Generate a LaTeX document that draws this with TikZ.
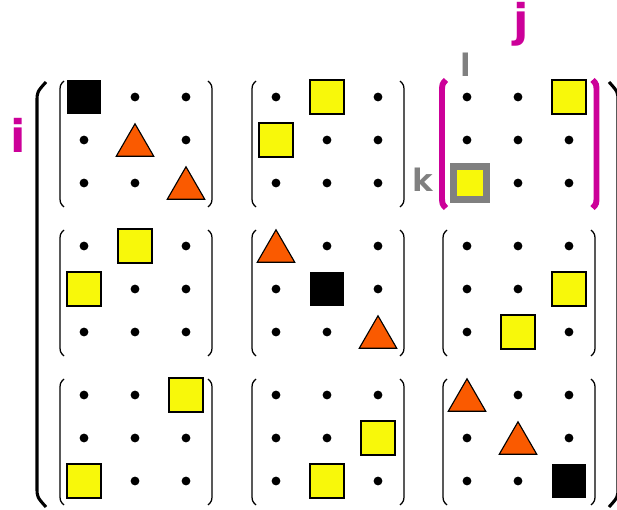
\documentclass[tikz,border=0pt]{standalone}
\usepackage{fontspec}
\setmainfont{DejaVu Sans}
\usepackage{tikz}
\usetikzlibrary{shapes.geometric}
\definecolor{mag}{RGB}{204,0,153}
\definecolor{ylw}{RGB}{248,248,10}
\definecolor{org}{RGB}{250,90,0}
\definecolor{gry}{RGB}{128,128,128}

\begin{document}
\begin{tikzpicture}[x=0.025cm,y=-0.025cm]
\tikzstyle{dot}= [circle, inner sep=0pt, fill=black, minimum size=0.22cm]
\tikzstyle{ysq}= [rectangle, inner sep=0pt, fill=ylw, draw, line width=0.8pt, minimum size=0.85cm]
\tikzstyle{bsq}= [rectangle, inner sep=0pt, fill=black, minimum size=0.85cm]
\tikzstyle{tri}= [regular polygon, regular polygon sides=3, inner sep=0pt, fill=org, draw, line width=0.8pt, minimum size=1.08cm, yshift=-0.135cm]
\tikzstyle{hl}= [rectangle, inner sep=0pt, fill=ylw, draw=gry, line width=0.175cm, minimum size=0.81cm]
\tikzstyle{par}= [line width=0.9pt]
\tikzstyle{lab}= [inner sep=0pt, anchor=base, font=\bfseries\fontsize{32}{36}\selectfont]
\useasboundingbox (0,0) rectangle (617,510);
%outer
\draw[line width=2.2pt] (46,82) .. controls (37,92) .. (37,102) -- (37,487) .. controls (37,497) .. (46,507);
\draw[line width=2.2pt] (609,82) .. controls (618,92) .. (618,102) -- (618,487) .. controls (618,497) .. (609,507);
\node[lab, text=mag] (li) at (18,153) {i};
\node[lab, text=mag] (lj) at (521,37) {j};
\node[lab, text=gry, font=\bfseries\fontsize{22}{26}\selectfont] (ll) at (466,77) {l};
\node[lab, text=gry, font=\bfseries\fontsize{22}{26}\selectfont] (lk) at (423,192) {k};
%1
\def\r{84};
\def\u{97};
\node[bsq] (e1111) at (0+\r,0+\u) {};
\node[dot] (e1112) at (51+\r,0+\u) {};
\node[dot] (e1113) at (102+\r,0+\u) {};
\node[dot] (e1121) at (0+\r,43+\u) {};
\node[tri] (e1122) at (51+\r,43+\u) {};
\node[dot] (e1123) at (102+\r,43+\u) {};
\node[dot] (e1131) at (0+\r,86+\u) {};
\node[dot] (e1132) at (51+\r,86+\u) {};
\node[tri] (e1133) at (102+\r,86+\u) {};
\draw[par] (-20+\r,-16+\u) .. controls (-24+\r,-12+\u) .. (-24+\r,-4+\u) -- (-24+\r,98+\u) .. controls (-24+\r,106+\u) .. (-20+\r,110+\u);
\draw[par] (124+\r,-16+\u) .. controls (128+\r,-12+\u) .. (128+\r,-4+\u) -- (128+\r,98+\u) .. controls (128+\r,106+\u) .. (124+\r,110+\u);
%2
\def\r{276};
\def\u{97};
\node[dot] (e1211) at (0+\r,0+\u) {};
\node[ysq] (e1212) at (51+\r,0+\u) {};
\node[dot] (e1213) at (102+\r,0+\u) {};
\node[ysq] (e1221) at (0+\r,43+\u) {};
\node[dot] (e1222) at (51+\r,43+\u) {};
\node[dot] (e1223) at (102+\r,43+\u) {};
\node[dot] (e1231) at (0+\r,86+\u) {};
\node[dot] (e1232) at (51+\r,86+\u) {};
\node[dot] (e1233) at (102+\r,86+\u) {};
\draw[par] (-20+\r,-16+\u) .. controls (-24+\r,-12+\u) .. (-24+\r,-4+\u) -- (-24+\r,98+\u) .. controls (-24+\r,106+\u) .. (-20+\r,110+\u);
\draw[par] (124+\r,-16+\u) .. controls (128+\r,-12+\u) .. (128+\r,-4+\u) -- (128+\r,98+\u) .. controls (128+\r,106+\u) .. (124+\r,110+\u);
%3
\def\r{467};
\def\u{97};
\node[dot] (e1311) at (0+\r,0+\u) {};
\node[dot] (e1312) at (51+\r,0+\u) {};
\node[ysq] (e1313) at (102+\r,0+\u) {};
\node[dot] (e1321) at (0+\r,43+\u) {};
\node[dot] (e1322) at (51+\r,43+\u) {};
\node[dot] (e1323) at (102+\r,43+\u) {};
\node[hl] (e1331) at (3+\r,86+\u) {};
\node[dot] (e1332) at (51+\r,86+\u) {};
\node[dot] (e1333) at (102+\r,86+\u) {};
\draw[mag, line width=4.2pt] (-21+\r,-17+\u) .. controls (-25+\r,-13+\u) .. (-25+\r,-4+\u) -- (-25+\r,98+\u) .. controls (-25+\r,107+\u) .. (-21+\r,111+\u);
\draw[mag, line width=4.2pt] (125.5+\r,-17+\u) .. controls (129.5+\r,-13+\u) .. (129.5+\r,-4+\u) -- (129.5+\r,98+\u) .. controls (129.5+\r,107+\u) .. (125.5+\r,111+\u);
%4
\def\r{84};
\def\u{246};
\node[dot] (e2111) at (0+\r,0+\u) {};
\node[ysq] (e2112) at (51+\r,0+\u) {};
\node[dot] (e2113) at (102+\r,0+\u) {};
\node[ysq] (e2121) at (0+\r,43+\u) {};
\node[dot] (e2122) at (51+\r,43+\u) {};
\node[dot] (e2123) at (102+\r,43+\u) {};
\node[dot] (e2131) at (0+\r,86+\u) {};
\node[dot] (e2132) at (51+\r,86+\u) {};
\node[dot] (e2133) at (102+\r,86+\u) {};
\draw[par] (-20+\r,-16+\u) .. controls (-24+\r,-12+\u) .. (-24+\r,-4+\u) -- (-24+\r,98+\u) .. controls (-24+\r,106+\u) .. (-20+\r,110+\u);
\draw[par] (124+\r,-16+\u) .. controls (128+\r,-12+\u) .. (128+\r,-4+\u) -- (128+\r,98+\u) .. controls (128+\r,106+\u) .. (124+\r,110+\u);
%5
\def\r{276};
\def\u{246};
\node[tri] (e2211) at (0+\r,0+\u) {};
\node[dot] (e2212) at (51+\r,0+\u) {};
\node[dot] (e2213) at (102+\r,0+\u) {};
\node[dot] (e2221) at (0+\r,43+\u) {};
\node[bsq] (e2222) at (51+\r,43+\u) {};
\node[dot] (e2223) at (102+\r,43+\u) {};
\node[dot] (e2231) at (0+\r,86+\u) {};
\node[dot] (e2232) at (51+\r,86+\u) {};
\node[tri] (e2233) at (102+\r,86+\u) {};
\draw[par] (-20+\r,-16+\u) .. controls (-24+\r,-12+\u) .. (-24+\r,-4+\u) -- (-24+\r,98+\u) .. controls (-24+\r,106+\u) .. (-20+\r,110+\u);
\draw[par] (124+\r,-16+\u) .. controls (128+\r,-12+\u) .. (128+\r,-4+\u) -- (128+\r,98+\u) .. controls (128+\r,106+\u) .. (124+\r,110+\u);
%6
\def\r{467};
\def\u{246};
\node[dot] (e2311) at (0+\r,0+\u) {};
\node[dot] (e2312) at (51+\r,0+\u) {};
\node[dot] (e2313) at (102+\r,0+\u) {};
\node[dot] (e2321) at (0+\r,43+\u) {};
\node[dot] (e2322) at (51+\r,43+\u) {};
\node[ysq] (e2323) at (102+\r,43+\u) {};
\node[dot] (e2331) at (0+\r,86+\u) {};
\node[ysq] (e2332) at (51+\r,86+\u) {};
\node[dot] (e2333) at (102+\r,86+\u) {};
\draw[par] (-20+\r,-16+\u) .. controls (-24+\r,-12+\u) .. (-24+\r,-4+\u) -- (-24+\r,98+\u) .. controls (-24+\r,106+\u) .. (-20+\r,110+\u);
\draw[par] (124+\r,-16+\u) .. controls (128+\r,-12+\u) .. (128+\r,-4+\u) -- (128+\r,98+\u) .. controls (128+\r,106+\u) .. (124+\r,110+\u);
%7
\def\r{84};
\def\u{395};
\node[dot] (e3111) at (0+\r,0+\u) {};
\node[dot] (e3112) at (51+\r,0+\u) {};
\node[ysq] (e3113) at (102+\r,0+\u) {};
\node[dot] (e3121) at (0+\r,43+\u) {};
\node[dot] (e3122) at (51+\r,43+\u) {};
\node[dot] (e3123) at (102+\r,43+\u) {};
\node[ysq] (e3131) at (0+\r,86+\u) {};
\node[dot] (e3132) at (51+\r,86+\u) {};
\node[dot] (e3133) at (102+\r,86+\u) {};
\draw[par] (-20+\r,-16+\u) .. controls (-24+\r,-12+\u) .. (-24+\r,-4+\u) -- (-24+\r,98+\u) .. controls (-24+\r,106+\u) .. (-20+\r,110+\u);
\draw[par] (124+\r,-16+\u) .. controls (128+\r,-12+\u) .. (128+\r,-4+\u) -- (128+\r,98+\u) .. controls (128+\r,106+\u) .. (124+\r,110+\u);
%8
\def\r{276};
\def\u{395};
\node[dot] (e3211) at (0+\r,0+\u) {};
\node[dot] (e3212) at (51+\r,0+\u) {};
\node[dot] (e3213) at (102+\r,0+\u) {};
\node[dot] (e3221) at (0+\r,43+\u) {};
\node[dot] (e3222) at (51+\r,43+\u) {};
\node[ysq] (e3223) at (102+\r,43+\u) {};
\node[dot] (e3231) at (0+\r,86+\u) {};
\node[ysq] (e3232) at (51+\r,86+\u) {};
\node[dot] (e3233) at (102+\r,86+\u) {};
\draw[par] (-20+\r,-16+\u) .. controls (-24+\r,-12+\u) .. (-24+\r,-4+\u) -- (-24+\r,98+\u) .. controls (-24+\r,106+\u) .. (-20+\r,110+\u);
\draw[par] (124+\r,-16+\u) .. controls (128+\r,-12+\u) .. (128+\r,-4+\u) -- (128+\r,98+\u) .. controls (128+\r,106+\u) .. (124+\r,110+\u);
%9
\def\r{467};
\def\u{395};
\node[tri] (e3311) at (0+\r,0+\u) {};
\node[dot] (e3312) at (51+\r,0+\u) {};
\node[dot] (e3313) at (102+\r,0+\u) {};
\node[dot] (e3321) at (0+\r,43+\u) {};
\node[tri] (e3322) at (51+\r,43+\u) {};
\node[dot] (e3323) at (102+\r,43+\u) {};
\node[dot] (e3331) at (0+\r,86+\u) {};
\node[dot] (e3332) at (51+\r,86+\u) {};
\node[bsq] (e3333) at (102+\r,86+\u) {};
\draw[par] (-20+\r,-16+\u) .. controls (-24+\r,-12+\u) .. (-24+\r,-4+\u) -- (-24+\r,98+\u) .. controls (-24+\r,106+\u) .. (-20+\r,110+\u);
\draw[par] (124+\r,-16+\u) .. controls (128+\r,-12+\u) .. (128+\r,-4+\u) -- (128+\r,98+\u) .. controls (128+\r,106+\u) .. (124+\r,110+\u);
\end{tikzpicture}
\end{document}
